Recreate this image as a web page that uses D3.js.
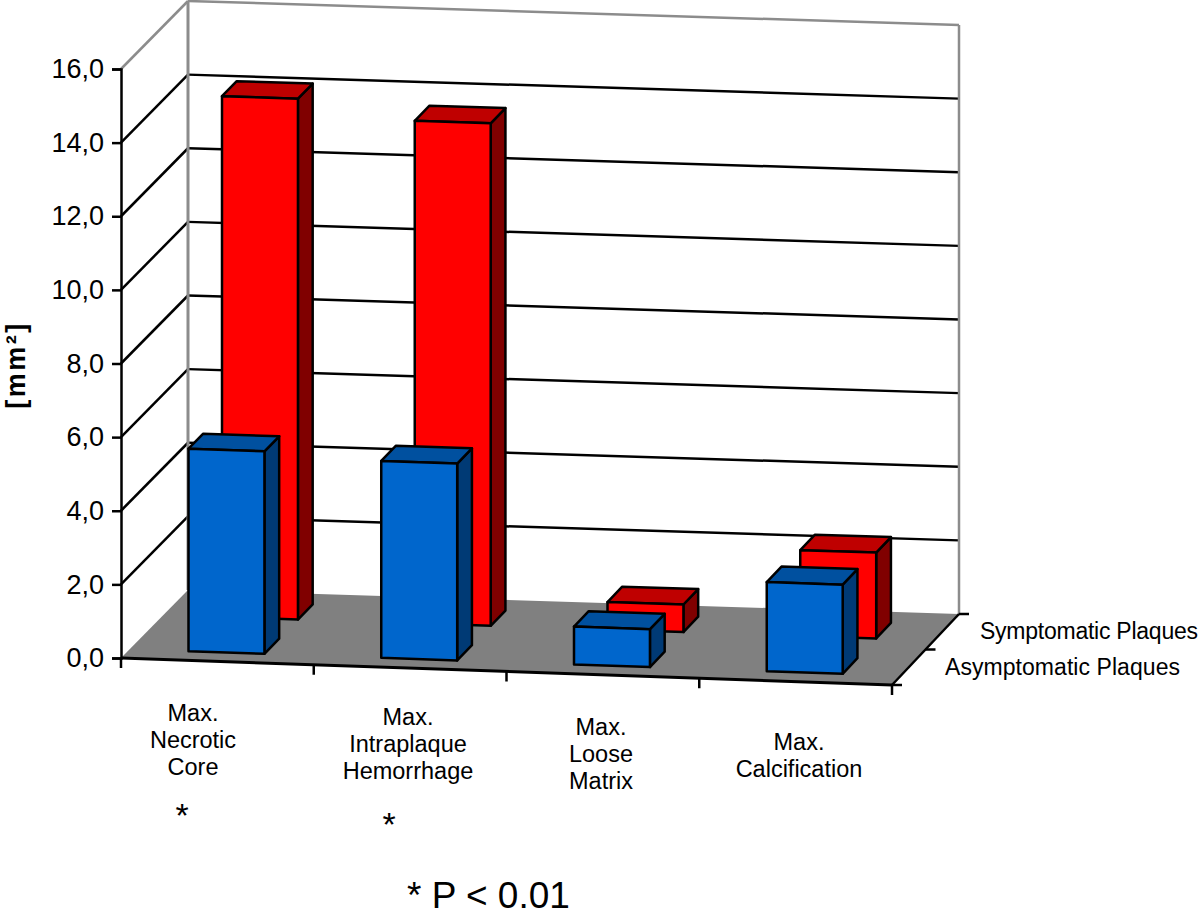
<!DOCTYPE html>
<html>
<head>
<meta charset="utf-8">
<script src="https://d3js.org/d3.v7.min.js"></script>
<style>
  html, body { margin: 0; padding: 0; background: #fff; }
  svg { display: block; }
  text { font-family: "Liberation Sans", Arial, sans-serif; fill: #000; }
</style>
</head>
<body>
<script>
// values
const categories = [
    ["Max.", "Necrotic", "Core"],
    ["Max.", "Intraplaque", "Hemorrhage"],
    ["Max.", "Loose", "Matrix"],
    ["Max.", "Calcification"]
];
const seriesNames = ["Asymptomatic Plaques", "Symptomatic Plaques"];
const asymptomatic = [5.5, 5.35, 1.03, 2.42];
const symptomatic = [14.15, 13.65, 0.75, 2.33];
const yTicks = [0, 2, 4, 6, 8, 10, 12, 14, 16];

const width = 1200, height = 917;

const svg = d3.select("body").append("svg")
    .attr("width", width)
    .attr("height", height)
    .attr("viewBox", `0 0 ${width} ${height}`);

// the fake 3d: u runs along the categories, d runs into the page
const y = d3.scaleLinear().domain([0, 16]).range([658, 69]);
const floorX = d3.scaleLinear().domain([0, 4]).range([121, 892]);
const floorY = d3.scaleLinear().domain([0, 4]).range([0, 27]);
const depthX = d3.scaleLinear().domain([0, 1]).range([0, 67]);
const depthY = d3.scaleLinear().domain([0, 4]).range([-68, -71]);

function project(u, d, v) {
    return [floorX(u) + depthX(d), y(v) + floorY(u) + depthY(u) * d];
}

const path = d3.line();

function poly(points, fill, stroke, sw) {
    svg.append("path")
        .attr("d", path(points) + "Z")
        .attr("fill", fill)
        .attr("stroke", stroke)
        .attr("stroke-width", sw)
        .attr("stroke-linejoin", "round");
}

function seg(a, b, stroke, sw) {
    svg.append("path")
        .attr("d", path([a, b]))
        .attr("fill", "none")
        .attr("stroke", stroke)
        .attr("stroke-width", sw);
}

// floor
poly([project(0, 0, 0), project(4, 0, 0), project(4, 1, 0), project(0, 1, 0)], "#808080", "none", 0);

// gridlines on both walls
yTicks.slice(1, -1).forEach(t => {
    seg(project(0, 0, t), project(0, 1, t), "#000", 2.5);
    seg(project(0, 1, t), project(4, 1, t), "#000", 2.5);
});

// wall outline
const wallGrey = "#8c8c8c";
seg(project(0, 0, 16), project(0, 1, 16), wallGrey, 2.5);
seg(project(0, 1, 16), project(4, 1, 16), wallGrey, 2.5);
seg(project(0, 1, 0), project(0, 1, 16), wallGrey, 3);
seg(project(4, 1, 0), project(4, 1, 16), wallGrey, 2.5);

// y axis
const yAxis = svg.append("g")
    .attr("transform", `translate(${floorX(0)},0)`)
    .call(d3.axisLeft(y)
        .tickValues(yTicks)
        .tickSize(9)
        .tickPadding(8)
        .tickFormat(d => d3.format(".1f")(d).replace(".", ",")));
yAxis.select(".domain").attr("stroke", "#000").attr("stroke-width", 2.5);
yAxis.selectAll(".tick line").attr("stroke", "#000").attr("stroke-width", 2.5);
yAxis.selectAll(".tick text")
    .style("font-family", '"Liberation Sans", Arial, sans-serif')
    .style("font-size", "27px");

// front edge and its ticks
seg(project(0, 0, 0), project(4, 0, 0), "#000", 3);
d3.range(0, 5).forEach(i => {
    const p = project(i, 0, 0);
    seg(p, [p[0], p[1] + 10], "#000", 2.5);
});

// depth axis ticks on the right
seg(project(4, 0, 0), project(4, 1, 0), "#000", 2.5);
[0, 0.5, 1].forEach(d => {
    const p = project(4, d, 0);
    seg(p, [p[0] + 10, p[1]], "#000", 2.5);
});

// bars
const barLeft = 0.305, barWide = 0.394;

function bar(i, d0, d1, v, colors) {
    const u0 = i + barLeft, u1 = u0 + barWide;
    poly([project(u1, d0, 0), project(u1, d1, 0), project(u1, d1, v), project(u1, d0, v)], colors[2], "#000", 2.5);
    poly([project(u0, d0, v), project(u1, d0, v), project(u1, d1, v), project(u0, d1, v)], colors[1], "#000", 2.5);
    poly([project(u0, d0, 0), project(u1, d0, 0), project(u1, d0, v), project(u0, d0, v)], colors[0], "#000", 2.5);
}

const redShades = ["#ff0000", "#bf0000", "#800000"];
const blueShades = ["#0066cc", "#00509f", "#003a75"];

symptomatic.forEach((v, i) => bar(i, 0.63, 0.85, v, redShades));
asymptomatic.forEach((v, i) => bar(i, 0.13, 0.35, v, blueShades));

// category labels
const labelX = [193, 408, 601, 799];
const labelY = [721, 725, 735, 750];
categories.forEach((lines, i) => {
    lines.forEach((line, j) => {
        svg.append("text")
            .attr("x", labelX[i])
            .attr("y", labelY[i] + j * 27)
            .attr("text-anchor", "middle")
            .style("font-size", "23.5px")
            .text(line);
    });
});

// series names
svg.append("text").attr("x", 980).attr("y", 639)
    .attr("textLength", 218).attr("lengthAdjust", "spacing")
    .style("font-size", "23px").text(seriesNames[1]);
svg.append("text").attr("x", 945).attr("y", 675)
    .attr("textLength", 235).attr("lengthAdjust", "spacing")
    .style("font-size", "23px").text(seriesNames[0]);

// y title
svg.append("text")
    .attr("transform", "translate(25,365) rotate(-90)")
    .attr("text-anchor", "middle")
    .style("font-size", "27px")
    .style("font-weight", "bold")
    .style("letter-spacing", "2.5px")
    .text("[mm²]");

// significance marks
svg.append("text").attr("x", 182).attr("y", 827).attr("text-anchor", "middle")
    .style("font-size", "34px").text("*");
svg.append("text").attr("x", 389).attr("y", 836).attr("text-anchor", "middle")
    .style("font-size", "34px").text("*");
svg.append("text").attr("x", 407).attr("y", 908)
    .style("font-size", "37px").text("* P < 0.01");
</script>
</body>
</html>
